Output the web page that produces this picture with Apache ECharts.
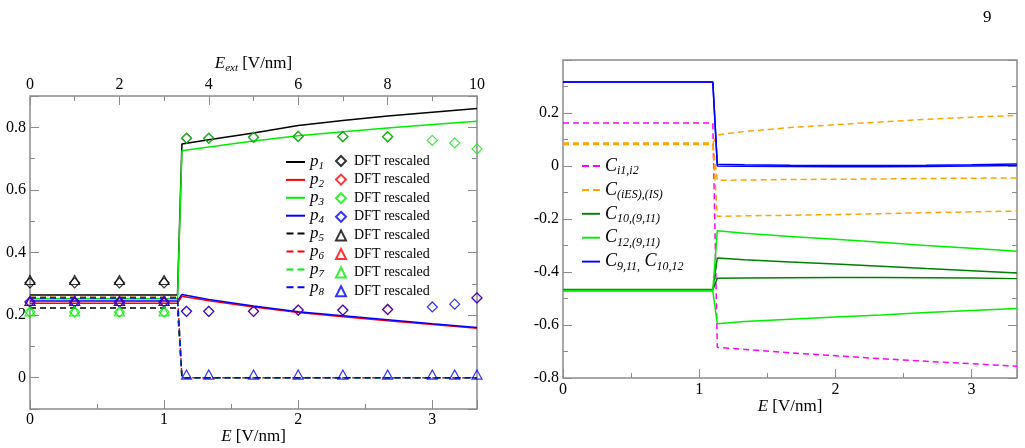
<!DOCTYPE html>
<html>
<head>
<meta charset="utf-8">
<script src="https://cdn.jsdelivr.net/npm/echarts@6/dist/echarts.min.js"></script>
<style>
  html, body { margin: 0; padding: 0; background: #fff; }
  #chart { width: 1025px; height: 448px; }
</style>
</head>
<body>
<div id="chart"></div>
<script>
// ---- values ----
// field samples for the model curves (E in V/nm)
const lineE = [0, 1.1, 1.133, 1.333, 1.667, 2, 2.333, 2.667, 3, 3.333];

// left panel: occupations p1..p8
const p1 = [0.264, 0.264, 0.747, 0.760, 0.782, 0.806, 0.822, 0.836, 0.848, 0.860];
const p2 = [0.238, 0.238, 0.260, 0.246, 0.226, 0.208, 0.195, 0.182, 0.170, 0.158];
const p3 = [0.252, 0.252, 0.725, 0.737, 0.756, 0.773, 0.786, 0.798, 0.809, 0.819];
const p4 = [0.245, 0.245, 0.266, 0.250, 0.229, 0.211, 0.198, 0.185, 0.172, 0.160];
const p5 = [0.223, 0.223, 0, 0, 0, 0, 0, 0, 0, 0];
const p6 = [0.262, 0.262, 0, 0, 0, 0, 0, 0, 0, 0];
const p7 = [0.256, 0.256, 0, 0, 0, 0, 0, 0, 0, 0];
const p8 = [0.255, 0.255, 0, 0, 0, 0, 0, 0, 0, 0];

// DFT rescaled points (null = not shown)
const dftE = [0, 0.333, 0.667, 1, 1.167, 1.333, 1.667, 2, 2.333, 2.667, 3, 3.167, 3.333];
const dft1 = [0.303, 0.303, 0.303, 0.303, 0.765, 0.765, 0.768, 0.771, 0.770, 0.770, null, null, null];
const dft2 = [0.242, 0.242, 0.242, 0.242, 0.212, 0.212, 0.212, 0.216, 0.216, 0.218, null, null, 0.255];
const dft3 = [0.210, 0.210, 0.210, 0.210, 0.765, 0.765, 0.768, 0.771, 0.770, 0.770, 0.758, 0.750, 0.731];
const dft4 = [0.242, 0.242, 0.242, 0.242, 0.212, 0.212, 0.212, 0.216, 0.216, 0.218, 0.226, 0.235, 0.255];
const dft5 = [0.312, 0.312, 0.312, 0.312, null, null, null, null, null, null, null, null, null];
const dft6 = [0.245, 0.245, 0.245, 0.245, null, null, null, null, null, null, null, null, null];
const dft7 = [0.212, 0.212, 0.212, 0.212, null, null, null, null, null, null, null, null, null];
const dft8 = [0.245, 0.245, 0.245, 0.245, 0.010, 0.010, 0.010, 0.010, 0.010, 0.010, 0.010, 0.010, 0.010];

// right panel: correlations
const cI1I2 = [0.162, 0.162, -0.684, -0.692, -0.705, -0.716, -0.727, -0.737, -0.746, -0.756];
const cIesA = [0.087, 0.087, 0.118, 0.130, 0.145, 0.156, 0.166, 0.176, 0.184, 0.191];
const cIesB = [0.084, 0.084, -0.054, -0.053, -0.051, -0.050, -0.049, -0.047, -0.046, -0.045];
const cIesC = [0.081, 0.081, -0.190, -0.188, -0.186, -0.183, -0.180, -0.176, -0.173, -0.170];
const c10A = [-0.466, -0.466, -0.347, -0.354, -0.362, -0.370, -0.378, -0.387, -0.395, -0.404];
const c10B = [-0.468, -0.468, -0.424, -0.423, -0.422, -0.421, -0.421, -0.422, -0.423, -0.425];
const c12A = [-0.470, -0.470, -0.244, -0.254, -0.266, -0.276, -0.288, -0.300, -0.310, -0.322];
const c12B = [-0.472, -0.472, -0.595, -0.587, -0.578, -0.570, -0.562, -0.553, -0.545, -0.538];
const c911 = [0.317, 0.317, 0.007, 0.005, 0.003, 0.002, 0.002, 0.003, 0.005, 0.008];
const c1012 = [0.317, 0.317, 0.000, -0.001, -0.002, -0.003, -0.003, -0.002, 0.000, 0.002];

// axis ranges / tick labels
const E_MAX = 10 / 3;
const EEXT_MAX = 10;
const bottomLabels = ['0', '1', '2', '3'];
const leftYLabels = ['0', '0.2', '0.4', '0.6', '0.8'];
const rightYLabels = ['-0.8', '-0.6', '-0.4', '-0.2', '0', '0.2'];

// ---- styling ----
const SERIF = 'Liberation Serif';
const FRAME = '#8c8c8c';
const BLACK = '#000000', RED = '#ff0000', GREEN = '#00ee00', BLUE = '#0000ff';
const MAGENTA = '#ff00ff', ORANGE = '#ffa500', DKGREEN = '#008000';

// legend line samples (filled bars, so dashed ones can be drawn as two dashes)
const SOLID_ICON = 'path://M0 0H19V2H0Z';
const DASH_ICON = 'path://M0 0H7V2H0ZM11 0H18V2H11Z';

function tick(len) {
  return { show: true, inside: true, length: len, lineStyle: { color: FRAME, width: 1 } };
}
const labelBase = { color: '#000', fontFamily: SERIF, fontSize: 16 };

function axis(extra) {
  return Object.assign({
    type: 'value',
    axisLine: { show: false, onZero: false },
    splitLine: { show: false },
    axisLabel: { show: false },
    axisTick: tick(5),
    nameMoveOverlap: false
  }, extra);
}

function pickLabel(list) {
  return v => {
    const hit = list.find(s => Math.abs(parseFloat(s) - v) < 1e-6);
    return hit === undefined ? '' : hit;
  };
}

const nameStyle = {
  color: '#000', fontFamily: SERIF, fontSize: 17,
  rich: {
    i: { fontFamily: SERIF, fontSize: 17, fontStyle: 'italic', color: '#000' },
    s: { fontFamily: SERIF, fontSize: 11, fontStyle: 'italic', color: '#000', padding: [9, 0, 0, 0] }
  }
};

function pairs(xs, ys) {
  return xs.map((x, i) => [x, ys[i]]).filter(d => d[1] !== null);
}

function line(name, ys, color, dashed, xi, yi) {
  return {
    type: 'line', name, xAxisIndex: xi, yAxisIndex: yi,
    data: pairs(lineE, ys), symbol: 'none', silent: true,
    lineStyle: { color, width: 1.5, type: dashed ? [6, 4] : 'solid' },
    itemStyle: { color }
  };
}

function dots(name, ys, color, shape) {
  return {
    type: 'scatter', name, xAxisIndex: 0, yAxisIndex: 0,
    data: pairs(dftE, ys), symbol: shape, silent: true,
    symbolSize: shape === 'triangle' ? [10, 9] : 10,
    itemStyle: { color: 'rgba(0,0,0,0)', borderColor: color, borderWidth: 1.2 },
    z: 3
  };
}

const pColors = [BLACK, RED, GREEN, BLUE];
const pLines = [p1, p2, p3, p4, p5, p6, p7, p8];
const dfts = [dft1, dft2, dft3, dft4, dft5, dft6, dft7, dft8];

const series = [];
pLines.forEach((ys, i) => series.push(line('p' + (i + 1), ys, pColors[i % 4], i >= 4, 0, 0)));
dfts.forEach((ys, i) => series.push(dots('d' + (i + 1), ys, pColors[i % 4], i >= 4 ? 'triangle' : 'diamond')));

series.push(line('ci1i2', cI1I2, MAGENTA, true, 3, 4));
series.push(line('cies', cIesA, ORANGE, true, 3, 4));
series.push(line('cies', cIesB, ORANGE, true, 3, 4));
series.push(line('cies', cIesC, ORANGE, true, 3, 4));
series.push(line('c10', c10A, DKGREEN, false, 3, 4));
series.push(line('c10', c10B, DKGREEN, false, 3, 4));
series.push(line('c12', c12A, GREEN, false, 3, 4));
series.push(line('c12', c12B, GREEN, false, 3, 4));
series.push(line('c911', c911, BLUE, false, 3, 4));
series.push(line('c911', c1012, BLUE, false, 3, 4));

const rightLegendText = {
  ci1i2: '{c|C}{s|i1,i2}',
  cies: '{c|C}{s|(iES),(IS)}',
  c10: '{c|C}{s|10,(9,11)}',
  c12: '{c|C}{s|12,(9,11)}',
  c911: '{c|C}{s|9,11}{s|,} {c|C}{s|10,12}'
};

const option = {
  animation: false,
  backgroundColor: '#fff',
  title: {
    text: '9', left: 978, top: 4,
    textStyle: { fontFamily: SERIF, fontSize: 17, fontWeight: 'normal', color: '#000' }
  },
  grid: [
    { left: 30, top: 96, width: 447, height: 313, show: true, borderColor: FRAME, borderWidth: 1.5,
      backgroundColor: 'transparent', containLabel: false, outerBoundsMode: 'none' },
    { left: 563, top: 60, width: 454, height: 318, show: true, borderColor: FRAME, borderWidth: 1.5,
      backgroundColor: 'transparent', containLabel: false, outerBoundsMode: 'none' }
  ],
  xAxis: [
    axis({
      gridIndex: 0, position: 'bottom', min: 0, max: E_MAX, interval: 0.5,
      axisLabel: Object.assign({ show: true, margin: 3, formatter: pickLabel(bottomLabels) }, labelBase),
      name: '{i|E} [V/nm]', nameLocation: 'middle', nameGap: 19, nameTextStyle: nameStyle
    }),
    axis({ gridIndex: 0, position: 'bottom', min: 0, max: E_MAX, interval: 1, axisTick: tick(9) }),
    axis({
      gridIndex: 0, position: 'top', min: 0, max: EEXT_MAX, interval: 2, axisTick: tick(9),
      minorTick: { show: true, splitNumber: 2, length: 5, lineStyle: { color: FRAME, width: 1 } },
      axisLabel: Object.assign({ show: true, margin: 3 }, labelBase),
      name: '{i|E}{s|ext} [V/nm]', nameLocation: 'middle', nameGap: 22, nameTextStyle: nameStyle
    }),
    axis({
      gridIndex: 1, position: 'bottom', min: 0, max: E_MAX, interval: 0.5,
      axisLabel: Object.assign({ show: true, margin: 4, formatter: pickLabel(bottomLabels) }, labelBase),
      name: '{i|E} [V/nm]', nameLocation: 'middle', nameGap: 20, nameTextStyle: nameStyle
    }),
    axis({ gridIndex: 1, position: 'bottom', min: 0, max: E_MAX, interval: 1, axisTick: tick(9) })
  ],
  yAxis: [
    axis({
      gridIndex: 0, position: 'left', min: -0.1, max: 0.9, interval: 0.1,
      axisLabel: Object.assign({ show: true, margin: 4, formatter: pickLabel(leftYLabels) }, labelBase)
    }),
    axis({ gridIndex: 0, position: 'left', min: -0.1, max: 0.9, splitNumber: 5, axisTick: tick(9) }),
    axis({ gridIndex: 0, position: 'right', min: -0.1, max: 0.9, interval: 0.1 }),
    axis({ gridIndex: 0, position: 'right', min: -0.1, max: 0.9, splitNumber: 5, axisTick: tick(9) }),
    axis({
      gridIndex: 1, position: 'left', min: -0.8, max: 0.4, interval: 0.2, axisTick: tick(9),
      minorTick: { show: true, splitNumber: 2, length: 5, lineStyle: { color: FRAME, width: 1 } },
      axisLabel: Object.assign({ show: true, margin: 4, formatter: pickLabel(rightYLabels) }, labelBase)
    }),
    axis({
      gridIndex: 1, position: 'right', min: -0.8, max: 0.4, interval: 0.2, axisTick: tick(9),
      minorTick: { show: true, splitNumber: 2, length: 5, lineStyle: { color: FRAME, width: 1 } }
    })
  ],
  legend: [
    {
      data: ['p1', 'p2', 'p3', 'p4', 'p5', 'p6', 'p7', 'p8'].map((n, i) => ({ name: n, icon: i < 4 ? SOLID_ICON : DASH_ICON })),
      orient: 'vertical', left: 281, top: 147, itemWidth: 19, itemHeight: 2, itemGap: -2.1,
      selectedMode: false,
      formatter: n => '{p|p}{s|' + n.slice(1) + '}',
      textStyle: {
        fontFamily: SERIF, fontSize: 17, color: '#000', lineHeight: 16,
        rich: {
          p: { fontFamily: SERIF, fontSize: 17, fontStyle: 'italic', color: '#000', lineHeight: 16 },
          s: { fontFamily: SERIF, fontSize: 11, fontStyle: 'italic', color: '#000', lineHeight: 16, padding: [9, 0, 0, 0] }
        }
      }
    },
    {
      data: ['d1', 'd2', 'd3', 'd4', 'd5', 'd6', 'd7', 'd8'],
      orient: 'vertical', left: 330, top: 148, itemWidth: 10, itemHeight: 10, itemGap: 2.6,
      selectedMode: false,
      formatter: () => 'DFT rescaled',
      textStyle: { fontFamily: SERIF, fontSize: 14, color: '#000', lineHeight: 16, padding: [0, 0, 0, 3] }
    },
    {
      data: ['ci1i2', 'cies', 'c10', 'c12', 'c911'].map((n, i) => ({ name: n, icon: i < 2 ? DASH_ICON : SOLID_ICON })),
      orient: 'vertical', left: 577, top: 150, itemWidth: 18, itemHeight: 2, itemGap: 1.9,
      selectedMode: false,
      formatter: n => rightLegendText[n],
      textStyle: {
        fontFamily: SERIF, fontSize: 18, color: '#000', lineHeight: 20,
        rich: {
          c: { fontFamily: SERIF, fontSize: 18, fontStyle: 'italic', color: '#000', lineHeight: 20 },
          s: { fontFamily: SERIF, fontSize: 12, fontStyle: 'italic', color: '#000', lineHeight: 20, padding: [10, 0, 0, 0] }
        }
      }
    }
  ],
  series
};

const chart = echarts.init(document.getElementById('chart'), null, { renderer: 'canvas' });
chart.setOption(option);
</script>
</body>
</html>
